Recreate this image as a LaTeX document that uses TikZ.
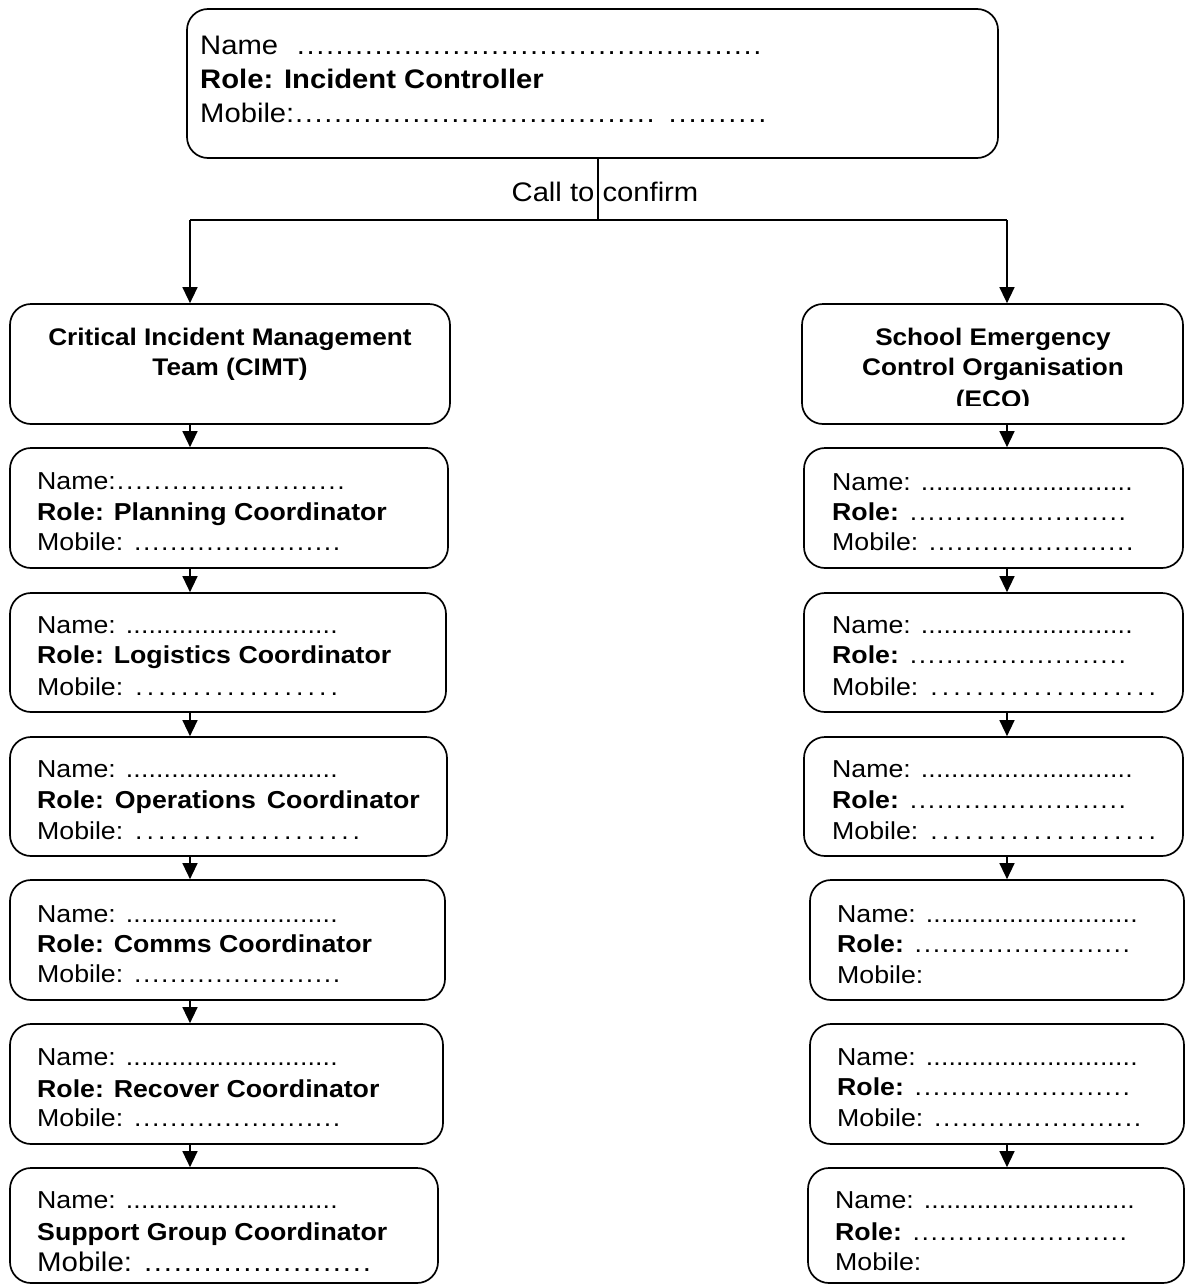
\documentclass[tikz,border=0pt]{standalone}
\usepackage{fontspec}
\setmainfont{Liberation Sans}[FakeStretch=1.09]
\usetikzlibrary{arrows.meta}
\newcommand\fA{\fontsize{26.8}{34}\selectfont}
\newcommand\fB{\fontsize{24.5}{30}\selectfont}
\newcommand\fT{\fontsize{24}{30}\selectfont\bfseries}
\newcommand\dl[2]{\hbox to #1pt{\xleaders\hbox to #2pt{\hss.\hss}\hfill}}
\newcommand\bx[5]{\node[box, minimum width=\fpeval{#4-#2}pt, minimum height=\fpeval{#5-#3}pt] (#1) at (\fpeval{(#2+#4)/2},\fpeval{(#3+#5)/2}) {};}
\begin{document}
\begin{tikzpicture}[x=1pt,y=-1pt,
 box/.style={draw, line width=1.7pt, rounded corners=21pt, inner sep=0pt},
 txt/.style={anchor=base west, inner sep=0pt, font=\fB},
 ttl/.style={anchor=base, inner sep=0pt, font=\fT},
 arr/.style={line width=1.4pt, -{Triangle[width=15pt,length=16pt]}},
 conn/.style={line width=1.4pt}]
\useasboundingbox (0,0) rectangle (1185,1285);

% top box
\bx{ic}{187}{9}{998}{158}
\node[txt,font=\fA] (ic1) at (200,54) {Name\hspace{18pt}\dl{466}{9.7}};
\node[txt,font=\fA] (ic2) at (200,88) {\textbf{Role: Incident Controller}};
\node[txt,font=\fA] (ic3) at (200,122) {Mobile:\dl{361}{9.7}\hspace{12pt}\dl{100}{9.7}};

\node[anchor=base, inner sep=0pt, font=\fA] (call) at (605,201) {Call to confirm};
\coordinate (tc) at (598,220);
\coordinate (tl) at (190,220);
\coordinate (tr) at (1007,220);
\draw[conn] (ic.south -| tc) -- (tc);
\draw[conn] (tl) -- (tr);

% left boxes
\bx{cimt}{10}{304}{450}{424}
\bx{l1}{10}{448}{448}{568}
\bx{l2}{10}{593}{446}{712}
\bx{l3}{10}{737}{447}{856}
\bx{l4}{10}{880}{445}{1000}
\bx{l5}{10}{1024}{443}{1144}
\bx{l6}{10}{1168}{438}{1283}
% right boxes
\bx{eco}{802}{304}{1183}{424}
\bx{r1}{804}{448}{1183}{568}
\bx{r2}{804}{593}{1183}{712}
\bx{r3}{804}{737}{1183}{856}
\bx{r4}{810}{880}{1184}{1000}
\bx{r5}{810}{1024}{1184}{1144}
\bx{r6}{808}{1168}{1184}{1283}

% arrows
\draw[arr] (tl) -- (cimt.north -| tl);
\draw[arr] (tr) -- (eco.north -| tr);
\foreach \a/\b in {cimt/l1,l1/l2,l2/l3,l3/l4,l4/l5,l5/l6}
  \draw[arr] (\a.south -| tl) -- (\b.north -| tl);
\foreach \a/\b in {eco/r1,r1/r2,r2/r3,r3/r4,r5/r6}
  \draw[arr] (\a.south -| tr) -- (\b.north -| tr);

% titles
\node[ttl] (cimt1) at (230,345) {Critical Incident Management};
\node[ttl] (cimt2) at (230,375) {Team (CIMT)};
\begin{scope}
\clip (802,304) rectangle (1183,405.5);
\node[ttl] (eco1) at (993,345) {School Emergency};
\node[ttl] (eco2) at (993,375) {Control Organisation};
\node[ttl] (eco3) at (993,407) {(ECO)};
\end{scope}

% left items
\node[txt] (l1a) at (37,489) {Name:\dl{230}{8.9}};
\node[txt] (l1b) at (37,520) {\textbf{Role: Planning Coordinator}};
\node[txt] (l1c) at (37,550) {Mobile: \dl{208}{8.9}};

\node[txt] (l2a) at (37,633) {Name: \dl{212}{7.4}};
\node[txt] (l2b) at (37,663) {\textbf{Role: Logistics Coordinator}};
\begin{scope}\clip (10,593) rectangle (446,697);
\node[txt] (l2c) at (37,695) {Mobile: \dl{207}{11.3}};
\end{scope}

\node[txt] (l3a) at (37,777) {Name: \dl{212}{7.4}};
\node[txt] (l3b) at (37,808) {\textbf{Role:\hspace{11pt}Operations\hspace{11pt}Coordinator}};
\begin{scope}\clip (10,737) rectangle (447,840);
\node[txt] (l3c) at (37,839) {Mobile: \dl{229}{11.3}};
\end{scope}

\node[txt] (l4a) at (37,922) {Name: \dl{212}{7.4}};
\node[txt] (l4b) at (37,952) {\textbf{Role: Comms Coordinator}};
\node[txt] (l4c) at (37,982) {Mobile: \dl{208}{8.9}};

\node[txt] (l5a) at (37,1065) {Name: \dl{212}{7.4}};
\node[txt] (l5b) at (37,1097) {\textbf{Role: Recover Coordinator}};
\node[txt] (l5c) at (37,1126) {Mobile: \dl{208}{8.9}};

\node[txt] (l6a) at (37,1208) {Name: \dl{212}{7.4}};
\node[txt] (l6b) at (37,1240) {\textbf{Support Group Coordinator}};
\begin{scope}\clip (10,1168) rectangle (438,1273);
\node[txt,font=\fontsize{27}{30}\selectfont] (l6c) at (37,1271) {Mobile: \dl{229}{9.6}};
\end{scope}

% right items
\node[txt] (r1a) at (832,490) {Name: \dl{212}{7.4}};
\node[txt] (r1b) at (832,520) {\textbf{Role:} \dl{218}{8.9}};
\node[txt] (r1c) at (832,550) {Mobile: \dl{206}{8.9}};

\node[txt] (r2a) at (832,633) {Name: \dl{212}{7.4}};
\node[txt] (r2b) at (832,663) {\textbf{Role:} \dl{218}{8.9}};
\begin{scope}\clip (804,593) rectangle (1183,697);
\node[txt] (r2c) at (832,695) {Mobile: \dl{230}{11.3}};
\end{scope}

\node[txt] (r3a) at (832,777) {Name: \dl{212}{7.4}};
\node[txt] (r3b) at (832,808) {\textbf{Role:} \dl{218}{8.9}};
\begin{scope}\clip (804,737) rectangle (1183,840);
\node[txt] (r3c) at (832,839) {Mobile: \dl{230}{11.3}};
\end{scope}

\node[txt] (r4a) at (837,922) {Name: \dl{212}{7.4}};
\node[txt] (r4b) at (837,952) {\textbf{Role:} \dl{217}{8.9}};
\begin{scope}\clip (810,880) rectangle (1184,985);
\node[txt] (r4c) at (837,983) {Mobile:};
\end{scope}

\node[txt] (r5a) at (837,1065) {Name: \dl{212}{7.4}};
\node[txt] (r5b) at (837,1095) {\textbf{Role:} \dl{217}{8.9}};
\node[txt] (r5c) at (837,1126) {Mobile: \dl{209}{8.9}};

\node[txt] (r6a) at (835,1208) {Name: \dl{211}{7.4}};
\node[txt] (r6b) at (835,1240) {\textbf{Role:} \dl{216}{8.9}};
\node[txt] (r6c) at (835,1270) {Mobile:};
\end{tikzpicture}
\end{document}
